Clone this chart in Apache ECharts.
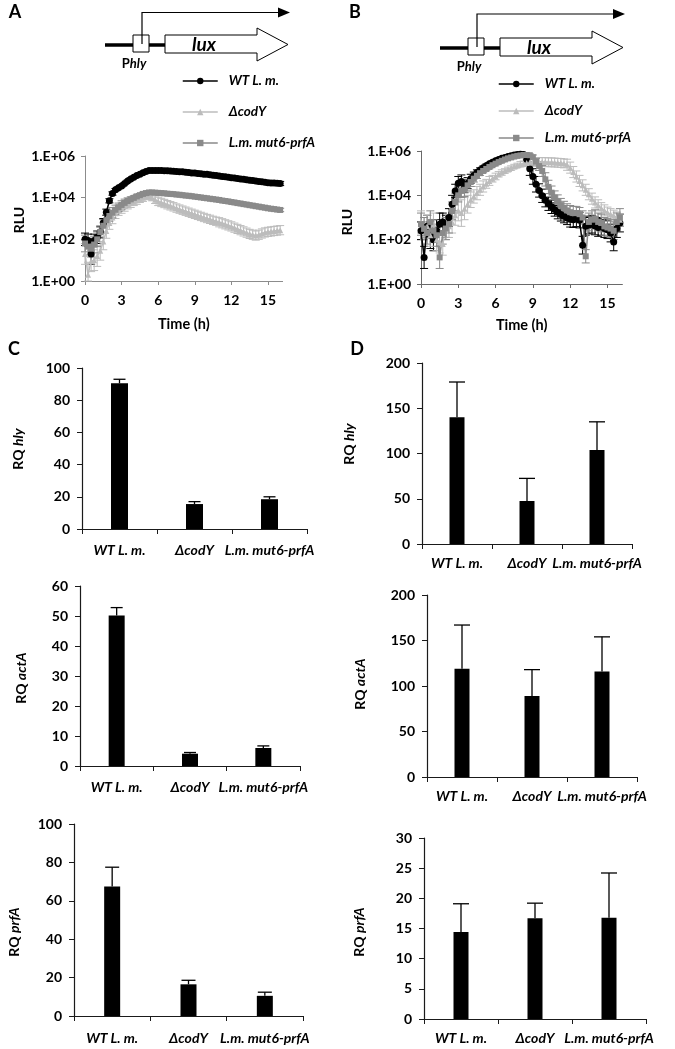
<!DOCTYPE html>
<html><head><meta charset="utf-8">
<script src="https://cdn.jsdelivr.net/npm/echarts@6/dist/echarts.min.js"></script>
<style>html,body{margin:0;padding:0;background:#fff}#c{width:675px;height:1049px}</style>
</head><body><div id="c"></div>
<script>
// ---------- data ----------
const strains = ['WT L. m.', 'ΔcodY', 'L.m. mut6-prfA'];
const timeTicks = [0, 3, 6, 9, 12, 15];
const rluTicks = [1, 100, 10000, 1000000];
const hours = [0,0.25,0.5,0.75,1,1.25,1.5,1.75,2,2.25,2.5,2.75,3,3.25,3.5,3.75,4,4.25,4.5,4.75,5,5.25,5.5,5.75,6,6.25,6.5,6.75,7,7.25,7.5,7.75,8,8.25,8.5,8.75,9,9.25,9.5,9.75,10,10.25,10.5,10.75,11,11.25,11.5,11.75,12,12.25,12.5,12.75,13,13.25,13.5,13.75,14,14.25,14.5,14.75,15,15.25,15.5,15.75,16];

// Panel A: log10(RLU)
const A_wt = [2.00,1.95,1.30,1.95,2.10,2.35,2.80,3.30,3.85,4.20,4.38,4.48,4.56,4.68,4.80,4.90,4.98,5.06,5.13,5.20,5.26,5.31,5.31,5.30,5.30,5.30,5.29,5.29,5.28,5.27,5.26,5.25,5.24,5.22,5.21,5.19,5.18,5.16,5.15,5.13,5.12,5.10,5.08,5.06,5.04,5.02,5.00,4.98,4.96,4.94,4.92,4.90,4.88,4.86,4.84,4.82,4.80,4.78,4.76,4.74,4.72,4.71,4.70,4.69,4.68];
const A_wt_err = [0.30,0.30,0.50,0.30,0.30,0.25,0.20,0.15,0.10,0.08,0.06,0.05,0.05,0.05,0.05,0.05,0.05,0.05,0.05,0.05,0.05,0.05,0.05,0.05,0.05,0.05,0.05,0.05,0.05,0.05,0.05,0.05,0.05,0.05,0.05,0.05,0.05,0.05,0.05,0.05,0.05,0.05,0.05,0.05,0.05,0.05,0.05,0.05,0.05,0.05,0.06,0.06,0.06,0.06,0.07,0.07,0.07,0.08,0.08,0.08,0.09,0.09,0.10,0.10,0.10];
const A_cod = [1.30,0.30,0.95,1.00,1.20,1.45,1.90,2.40,2.78,3.05,3.25,3.40,3.50,3.60,3.68,3.75,3.82,3.88,3.95,4.00,4.05,4.08,4.00,3.90,3.82,3.77,3.72,3.66,3.61,3.56,3.50,3.45,3.40,3.35,3.30,3.25,3.20,3.15,3.10,3.05,3.00,2.96,2.91,2.87,2.82,2.77,2.72,2.67,2.62,2.56,2.50,2.44,2.38,2.32,2.26,2.22,2.18,2.22,2.28,2.33,2.36,2.38,2.40,2.42,2.44];
const A_cod_err = [0.50,0.60,0.50,0.50,0.50,0.45,0.40,0.35,0.30,0.30,0.25,0.25,0.25,0.25,0.22,0.22,0.20,0.20,0.18,0.18,0.15,0.15,0.15,0.18,0.20,0.20,0.20,0.20,0.20,0.20,0.20,0.20,0.20,0.20,0.20,0.20,0.20,0.20,0.20,0.20,0.20,0.20,0.20,0.20,0.22,0.22,0.22,0.22,0.22,0.22,0.22,0.22,0.22,0.22,0.22,0.22,0.22,0.22,0.22,0.22,0.22,0.22,0.22,0.22,0.22];
const A_mut = [1.80,1.65,1.55,1.75,2.00,2.35,2.65,2.92,3.12,3.28,3.42,3.54,3.65,3.75,3.84,3.92,3.99,4.06,4.12,4.18,4.22,4.25,4.25,4.24,4.23,4.22,4.21,4.19,4.18,4.17,4.15,4.14,4.12,4.10,4.09,4.07,4.05,4.03,4.01,3.99,3.97,3.95,3.93,3.91,3.89,3.86,3.84,3.82,3.79,3.77,3.74,3.72,3.69,3.67,3.64,3.62,3.59,3.57,3.54,3.52,3.49,3.47,3.45,3.43,3.41];
const A_mut_err = [0.40,0.40,0.40,0.40,0.35,0.30,0.30,0.25,0.25,0.25,0.22,0.20,0.20,0.18,0.15,0.12,0.10,0.10,0.08,0.08,0.08,0.08,0.08,0.08,0.08,0.08,0.08,0.08,0.08,0.08,0.08,0.08,0.08,0.08,0.08,0.08,0.08,0.08,0.08,0.08,0.08,0.08,0.08,0.08,0.08,0.08,0.08,0.08,0.08,0.08,0.08,0.08,0.08,0.08,0.08,0.08,0.08,0.08,0.08,0.08,0.08,0.08,0.08,0.08,0.08];

// Panel B: log10(RLU)
const B_wt = [2.40,1.20,2.60,2.20,2.00,2.40,2.70,2.80,2.60,3.00,3.60,4.20,4.55,4.62,4.42,4.55,4.75,4.90,5.03,5.14,5.24,5.33,5.42,5.49,5.56,5.62,5.67,5.71,5.75,5.79,5.82,5.84,5.85,5.84,5.62,5.20,4.85,4.50,4.22,3.98,3.78,3.62,3.48,3.36,3.24,3.14,3.06,2.98,2.92,2.90,2.94,2.88,1.75,2.60,2.66,2.70,2.62,2.55,2.60,2.50,2.45,2.30,1.90,2.50,2.75];
const B_wt_err = [0.40,0.50,0.50,0.60,0.50,0.50,0.50,0.40,0.50,0.40,0.40,0.30,0.30,0.30,0.30,0.25,0.20,0.15,0.12,0.10,0.08,0.08,0.06,0.06,0.06,0.06,0.06,0.06,0.06,0.06,0.06,0.06,0.06,0.08,0.20,0.30,0.35,0.35,0.30,0.30,0.30,0.30,0.30,0.30,0.30,0.30,0.30,0.30,0.35,0.35,0.35,0.35,0.40,0.40,0.40,0.40,0.40,0.40,0.40,0.40,0.40,0.40,0.40,0.40,0.40];
const B_cod = [2.80,2.50,2.60,2.20,2.70,2.00,1.90,1.80,2.50,2.60,2.80,3.10,3.30,3.20,3.40,3.60,3.80,3.95,4.10,4.25,4.40,4.52,4.65,4.75,4.85,4.95,5.03,5.10,5.17,5.23,5.30,5.35,5.40,5.43,5.46,5.48,5.50,5.50,5.50,5.50,5.50,5.49,5.49,5.48,5.47,5.46,5.44,5.38,5.25,5.05,4.85,4.65,4.45,4.25,4.05,3.85,3.68,3.55,3.42,3.32,3.22,3.15,3.08,3.00,2.90];
const B_cod_err = [0.50,0.50,0.50,0.50,0.50,0.50,0.50,0.50,0.50,0.50,0.50,0.45,0.45,0.60,0.50,0.40,0.35,0.30,0.30,0.25,0.25,0.20,0.20,0.15,0.15,0.12,0.12,0.10,0.10,0.10,0.10,0.10,0.12,0.12,0.15,0.15,0.18,0.18,0.20,0.20,0.20,0.20,0.20,0.20,0.20,0.20,0.20,0.25,0.25,0.25,0.25,0.25,0.25,0.25,0.25,0.25,0.25,0.25,0.25,0.25,0.25,0.25,0.25,0.25,0.25];
const B_mut = [2.70,2.50,2.30,2.80,2.40,2.20,1.20,2.30,2.50,2.70,3.30,3.70,4.00,4.20,4.25,4.45,4.60,4.75,4.88,5.00,5.10,5.19,5.28,5.36,5.43,5.50,5.56,5.62,5.67,5.71,5.75,5.78,5.80,5.82,5.82,5.81,5.72,5.52,5.32,5.10,4.72,4.38,4.12,3.90,3.72,3.56,3.43,3.32,3.24,3.20,3.20,3.15,3.00,1.25,2.80,2.90,2.95,2.80,2.75,2.60,2.55,2.50,2.40,2.80,3.00];
const B_mut_err = [0.50,0.50,0.50,0.50,0.50,0.50,0.50,0.50,0.50,0.40,0.40,0.40,0.30,0.30,0.30,0.25,0.20,0.15,0.12,0.10,0.08,0.08,0.08,0.06,0.06,0.06,0.06,0.06,0.06,0.06,0.06,0.06,0.06,0.06,0.06,0.06,0.10,0.15,0.20,0.25,0.30,0.30,0.30,0.30,0.30,0.30,0.30,0.30,0.30,0.30,0.30,0.30,0.30,0.30,0.40,0.40,0.40,0.40,0.40,0.40,0.40,0.40,0.40,0.40,0.40];

// Panels C / D: relative quantification (RQ), mean and upper error
const C_hly = [90.5, 15.5, 18.5];   const C_hly_err = [2.5, 1.5, 1.5];
const C_actA = [50.2, 4.1, 6.0];    const C_actA_err = [2.6, 0.4, 0.7];
const C_prfA = [67.5, 16.5, 10.5];  const C_prfA_err = [10.0, 2.1, 1.9];
const D_hly = [140, 47.5, 104];     const D_hly_err = [39, 25, 31];
const D_actA = [119, 89, 116];      const D_actA_err = [48, 29, 38];
const D_prfA = [14.4, 16.7, 16.8];  const D_prfA_err = [4.7, 2.5, 7.4];

// ---------- styles ----------
const FONT = 'Lato, "Open Sans", sans-serif';
const seriesColor = ['#000000', '#bcbcbc', '#8a8a8a'];
const seriesSymbol = ['circle', 'triangle', 'rect'];
const seriesSize = [7, 6, 6];

const chart = echarts.init(document.getElementById('c'), null, {renderer: 'canvas'});

const grids = [];
const xAxes = [];
const yAxes = [];
const series = [];
const yTitles = [];

function addTimePanel(g, logsList, errsList, axisColor) {
  const gi = grids.length;
  grids.push({left: g.left, top: g.top, width: g.width, height: g.height});
  xAxes.push({
    gridIndex: gi, type: 'value', min: 0, max: 16.2,
    name: 'Time (h)', nameLocation: 'middle', nameGap: g.xNameGap,
    nameTextStyle: {fontFamily: FONT, fontWeight: 'bold', fontSize: 14.5, color: '#000'},
    axisLine: {show: true, lineStyle: {color: axisColor, width: 1}},
    axisTick: {show: true, length: 4, lineStyle: {color: axisColor}, customValues: timeTicks},
    axisLabel: {customValues: timeTicks, margin: 12, fontFamily: FONT, fontWeight: 'bold', fontSize: 14, color: '#000'},
    splitLine: {show: false}
  });
  yAxes.push({
    gridIndex: gi, type: 'log', logBase: 10, min: 1, max: 1000000,
    axisLine: {show: true, lineStyle: {color: axisColor, width: 1}},
    axisTick: {show: true, length: 4, lineStyle: {color: axisColor}, customValues: rluTicks},
    axisLabel: {customValues: rluTicks, margin: 10, fontFamily: FONT, fontWeight: 'bold', fontSize: 14, color: '#000',
      formatter: v => '1.E+' + String(Math.round(Math.log10(v))).padStart(2, '0')},
    splitLine: {show: false}
  });
  yTitles.push(vTitle('{a|RLU}', '', g.yTitle[0], g.yTitle[1]));
  logsList.forEach((logs, k) => {
    const errs = errsList[k];
    const col = seriesColor[k];
    series.push({
      type: 'custom', name: strains[k] + ' error', xAxisIndex: gi, yAxisIndex: gi, silent: true,
      data: hours.map((t, i) => [t, logs[i], errs[i]]),
      encode: {x: 0, y: -1},
      renderItem: (p, api) => {
        const t = api.value(0), v = api.value(1), e = api.value(2);
        const hi = api.coord([t, Math.pow(10, Math.min(v + e, 6.3))]);
        const lo = api.coord([t, Math.pow(10, Math.max(v - e, 0))]);
        const w = 4;
        return {type: 'group', children: [
          {type: 'line', shape: {x1: hi[0], y1: hi[1], x2: lo[0], y2: lo[1]}, style: {stroke: col, lineWidth: 1}},
          {type: 'line', shape: {x1: hi[0] - w, y1: hi[1], x2: hi[0] + w, y2: hi[1]}, style: {stroke: col, lineWidth: 1}},
          {type: 'line', shape: {x1: lo[0] - w, y1: lo[1], x2: lo[0] + w, y2: lo[1]}, style: {stroke: col, lineWidth: 1}}
        ]};
      }
    });
    series.push({
      type: 'line', name: strains[k], xAxisIndex: gi, yAxisIndex: gi,
      data: hours.map((t, i) => [t, Math.pow(10, logs[i])]),
      symbol: seriesSymbol[k], symbolSize: seriesSize[k], showSymbol: true,
      lineStyle: {color: col, width: 1.5}, itemStyle: {color: col}
    });
  });
}

// rotated axis title (reads bottom-to-top)
function vTitle(text, gene, x, y) {
  return {type: 'text', x: x, y: y, rotation: Math.PI / 2, silent: true,
    style: {text: text, align: 'center', verticalAlign: 'middle',
      rich: {
        a: {fontFamily: FONT, fontWeight: 'bold', fontSize: 14, fill: '#000'},
        b: {fontFamily: FONT, fontWeight: 'bold', fontStyle: 'italic', fontSize: 14, fill: '#000'}
      }}};
}

function addBarPanel(g, gene, vals, errs, capW, barW) {
  const gi = grids.length;
  grids.push({left: g.left, top: g.top, width: g.width, height: g.height});
  xAxes.push({
    gridIndex: gi, type: 'category', data: strains,
    axisLine: {show: true, lineStyle: {color: '#1a1a1a', width: 1.2}},
    axisTick: {show: true, length: 5, alignWithLabel: false, interval: 0, lineStyle: {color: '#1a1a1a'}},
    axisLabel: {interval: 0, margin: g.catMargin, fontFamily: FONT, fontWeight: 'bold', fontStyle: 'italic', fontSize: 14, color: '#000'}
  });
  yAxes.push({
    gridIndex: gi, type: 'value', min: 0, max: g.max, interval: g.interval,
    axisLine: {show: true, lineStyle: {color: '#1a1a1a', width: 1.2}},
    axisTick: {show: true, length: 5, lineStyle: {color: '#1a1a1a'}},
    axisLabel: {margin: 12, fontFamily: FONT, fontWeight: 'bold', fontSize: 14, color: '#000'},
    splitLine: {show: false}
  });
  yTitles.push(vTitle('{a|RQ }{b|' + gene + '}', gene, g.title[0], g.title[1]));
  series.push({
    type: 'bar', xAxisIndex: gi, yAxisIndex: gi, data: vals, barWidth: barW,
    itemStyle: {color: '#000'}, silent: true
  });
  series.push({
    type: 'custom', xAxisIndex: gi, yAxisIndex: gi, silent: true,
    data: vals.map((v, i) => [i, v, v + errs[i]]),
    encode: {x: 0, y: [1, 2]},
    renderItem: (p, api) => {
      const b = api.coord([api.value(0), api.value(1)]);
      const t = api.coord([api.value(0), api.value(2)]);
      return {type: 'group', children: [
        {type: 'line', shape: {x1: b[0], y1: b[1], x2: t[0], y2: t[1]}, style: {stroke: '#000', lineWidth: 1.3}},
        {type: 'line', shape: {x1: t[0] - capW / 2, y1: t[1], x2: t[0] + capW / 2, y2: t[1]}, style: {stroke: '#000', lineWidth: 1.3}}
      ]};
    }
  });
}

addTimePanel({left: 85, top: 156, width: 197.6, height: 125, xNameGap: 36, yTitle: [19, 220]},
  [A_wt, A_cod, A_mut], [A_wt_err, A_cod_err, A_mut_err], '#8c8c8c');
addTimePanel({left: 421, top: 151, width: 201.4, height: 133, xNameGap: 34, yTitle: [347, 222]},
  [B_wt, B_cod, B_mut], [B_wt_err, B_cod_err, B_mut_err], '#6a6a6a');

addBarPanel({left: 82, top: 368, width: 225, height: 161, max: 100, interval: 20, title: [18, 449], catMargin: 14}, 'hly', C_hly, C_hly_err, 12, 17);
addBarPanel({left: 422, top: 363, width: 210, height: 181, max: 200, interval: 50, title: [349, 444], catMargin: 12}, 'hly', D_hly, D_hly_err, 16, 15);
addBarPanel({left: 80, top: 586, width: 220, height: 180, max: 60, interval: 10, title: [21, 678], catMargin: 14}, 'actA', C_actA, C_actA_err, 12, 16);
addBarPanel({left: 427, top: 595, width: 210, height: 182, max: 200, interval: 50, title: [360, 684], catMargin: 12}, 'actA', D_actA, D_actA_err, 16, 15);
addBarPanel({left: 74, top: 824, width: 229, height: 192, max: 100, interval: 20, title: [14, 932], catMargin: 15}, 'prfA', C_prfA, C_prfA_err, 14, 16);
addBarPanel({left: 424, top: 838, width: 222, height: 181, max: 30, interval: 5, title: [359, 932], catMargin: 12}, 'prfA', D_prfA, D_prfA_err, 16, 15);

// ---------- schematic (Phly-lux construct) ----------
function schematic(dx, dy, dyTop) {
  const P = pts => pts.map(p => [p[0] + dx, p[1] + dy]);
  return [
    {type: 'line', shape: {x1: 105 + dx, y1: 45 + dy, x2: 166 + dx, y2: 45 + dy}, style: {stroke: '#000', lineWidth: 3.5}},
    {type: 'polygon', shape: {points: P([[165,35],[257,35],[257,28],[288,44.5],[257,61],[257,53],[165,53]])}, style: {fill: '#fff', stroke: '#000', lineWidth: 1}},
    {type: 'rect', shape: {x: 133 + dx, y: 35 + dy, width: 16, height: 17}, style: {fill: '#fff', stroke: '#000', lineWidth: 1}},
    {type: 'polyline', shape: {points: [[142 + dx, 44 + dy], [142 + dx, 12.5 + dyTop], [279 + dx, 12.5 + dyTop]]}, style: {stroke: '#000', lineWidth: 1.2, fill: null}},
    {type: 'polygon', shape: {points: [[278 + dx, 7.5 + dyTop], [290 + dx, 12.5 + dyTop], [278 + dx, 17.5 + dyTop]]}, style: {fill: '#000'}},
    {type: 'text', x: 204 + dx, y: 45 + dy, style: {text: 'lux', fontFamily: FONT, fontWeight: 'bold', fontStyle: 'italic', fontSize: 19, fill: '#000', align: 'center', verticalAlign: 'middle'}},
    {type: 'text', x: 134 + dx, y: 64 + dy, style: {text: '{p|P}{h|hly}', align: 'center', verticalAlign: 'middle',
      rich: {p: {fontFamily: FONT, fontWeight: 'bold', fontSize: 13, fill: '#000'}, h: {fontFamily: FONT, fontWeight: 'bold', fontStyle: 'italic', fontSize: 13, fill: '#000'}}}}
  ];
}
function letter(t, x, y) {
  return {type: 'text', x: x, y: y, style: {text: t, fontFamily: FONT, fontWeight: 'bold', fontSize: 18, fill: '#000', align: 'center', verticalAlign: 'middle'}};
}

const legendText = {fontFamily: FONT, fontWeight: 'bold', fontStyle: 'italic', fontSize: 13.5, lineHeight: 14, color: '#000', padding: [0, 0, 0, 6]};

chart.setOption({
  animation: false,
  backgroundColor: '#fff',
  grid: grids,
  xAxis: xAxes,
  yAxis: yAxes,
  legend: [
    {data: strains, orient: 'vertical', left: 177, top: 69, itemWidth: 35, itemHeight: 8, itemGap: 17, textStyle: legendText, selectedMode: false, lineStyle: {width: 1.5}},
    {data: strains, orient: 'vertical', left: 493, top: 72, itemWidth: 35, itemHeight: 8, itemGap: 13, textStyle: legendText, selectedMode: false, lineStyle: {width: 1.5}}
  ],
  graphic: [].concat(
    schematic(0, 0, 0),
    schematic(335, 3, 1.5),
    yTitles,
    [letter('A', 15, 12), letter('B', 355, 12), letter('C', 14, 349), letter('D', 357, 349)]
  ),
  series: series
});
</script>
</body></html>
